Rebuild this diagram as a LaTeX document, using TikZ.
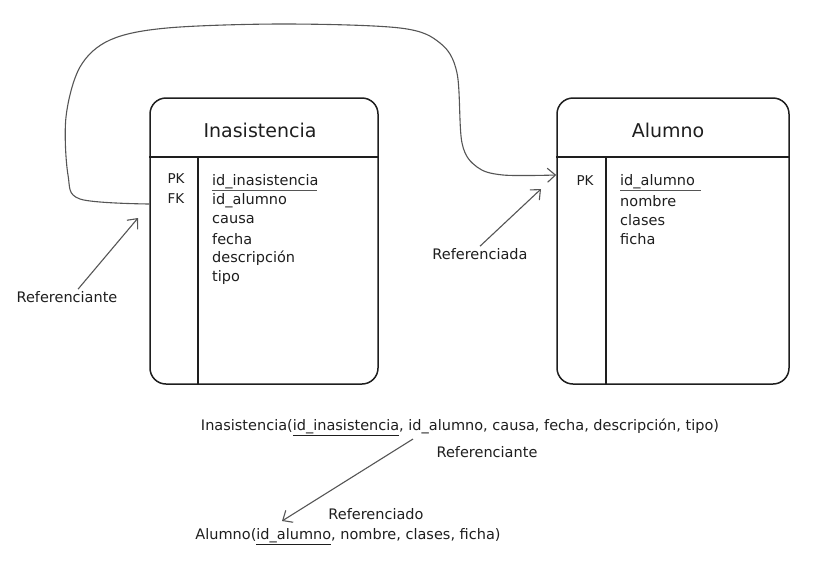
\documentclass[tikz,border=0pt]{standalone}
\usepackage{fontspec}
\setmainfont{DejaVu Sans}
\usepackage{xcolor}
\usepackage{tikz}
\usetikzlibrary{arrows.meta, positioning}

\definecolor{inkdark}{HTML}{1E1E1E}
\definecolor{inklink}{HTML}{555555}

\begin{document}
\begin{tikzpicture}[
    x=1pt,  % 1 px = 1 pt
    y=-1pt, % y hacia abajo, como la imagen
    >={Straight Barb[length=8pt, width=14pt]},
    tablebox/.style={draw=inkdark, line width=1.5pt, rounded corners=16pt, inner sep=0pt},
    ink/.style={draw=inkdark, line width=1.5pt},
    link/.style={draw=inklink, line width=1.1pt},
    keyline/.style={draw=inklink, line width=1.3pt},
    title/.style={font=\fontsize{19}{22}\selectfont, text=inkdark, inner sep=0pt},
    keytag/.style={font=\fontsize{13.5}{16}\selectfont, text=inkdark, inner sep=0pt},
    field/.style={font=\fontsize{14.5}{17}\selectfont, text=inkdark, anchor=west, inner sep=0pt},
    note/.style={font=\fontsize{14.5}{17}\selectfont, text=inkdark, inner sep=0pt}
]
    \useasboundingbox (0,0) rectangle (813,574);

    % --- tabla Inasistencia ---
    \node[tablebox, minimum width=228pt, minimum height=286pt] (ina) at (264,241) {};
    \draw[ink] (ina.west |- 0,157) -- (ina.east |- 0,157);
    \draw[ink] (198,157) -- (ina.south -| 198,0);
    \node[title] (ina-title) at (260,130) {Inasistencia};
    \node[keytag] (ina-pk) at (176,179) {PK};
    \node[keytag] (ina-fk) at (176,199) {FK};
    \foreach \f [count=\i] in {id\_inasistencia, id\_alumno, causa, fecha, descripción, tipo} {
        \node[field] (ina-\i) at (212, 163+19*\i) {\f};
    }
    \draw[keyline] ([yshift=-1pt]ina-1.south west) -- ([xshift=-2pt, yshift=-1pt]ina-1.south east);

    % --- tabla Alumno ---
    \node[tablebox, minimum width=232pt, minimum height=286pt] (alu) at (673,241) {};
    \draw[ink] (alu.west |- 0,157) -- (alu.east |- 0,157);
    \draw[ink] (606,157) -- (alu.south -| 606,0);
    \node[title] (alu-title) at (668,130) {Alumno};
    \node[keytag] (alu-pk) at (585,181) {PK};
    \foreach \f [count=\i] in {id\_alumno, nombre, clases, ficha} {
        \node[field] (alu-\i) at (620, 163+19*\i) {\f};
    }
    \draw[keyline] ([yshift=-1pt]alu-1.south west) -- ([xshift=6pt, yshift=-1pt]alu-1.south east);

    % --- referencia FK -> PK ---
    \coordinate (fkout) at (ina.west |- 0,204);
    \coordinate (pkin) at (alu.west |- 0,175);
    \draw[link, ->] plot[smooth, tension=0.55] coordinates {
        (fkout) (80,199) (68,175) (66,117) (80,67) (110,40) (167,28) (283,24)
        (400,28) (440,43) (457,73) (462,143) (477,167) (503,175) (pkin)};

    % --- etiquetas de referencia ---
    \node[note] (refl) at (67,297) {Referenciante};
    \coordinate (inaptr) at (138,218);
    \draw[link, ->] ([xshift=11pt, yshift=2pt]refl.north) -- (inaptr);

    \node[note] (refd) at (480,254) {Referenciada};
    \coordinate (aluptr) at (541,189);
    \draw[link, ->] ([yshift=2pt]refd.north) -- (aluptr);

    % --- esquema relacional ---
    \node[note] (ina-rel) at (460,427)
        {Inasistencia(\underline{id\_inasistencia}, id\_alumno, causa, fecha, descripción, tipo)};
    \node[note] (rel-refl) at (487,452) {Referenciante};
    \node[note] (rel-refd) at (376,514) {Referenciado};
    \node[note] (alu-rel) at (348,537) {Alumno(\underline{id\_alumno}, nombre, clases, ficha)};
    \coordinate (relfrom) at (413,439);
    \coordinate (relto) at (282,521);
    \draw[link, ->] (relfrom) -- (relto);

\end{tikzpicture}
\end{document}
